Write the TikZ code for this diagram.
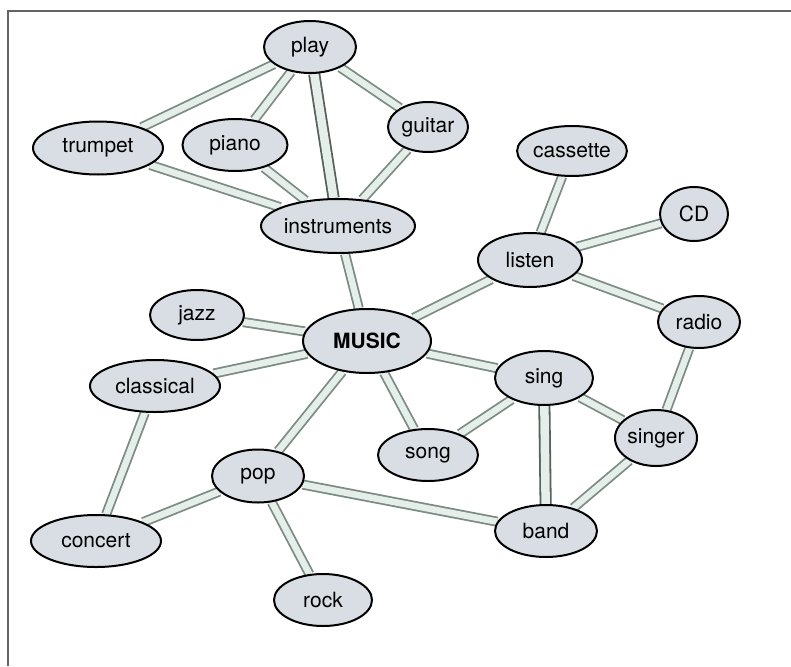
\documentclass[tikz,border=0pt]{standalone}
\usepackage{fontspec}
\setmainfont{TeX Gyre Heros}
\usetikzlibrary{shapes.geometric,backgrounds}
\definecolor{bubble}{RGB}{216,222,228}
\definecolor{tubeedge}{RGB}{122,140,132}
\definecolor{tubefill}{RGB}{230,238,234}
\definecolor{framegray}{RGB}{100,100,100}
\tikzset{
  word/.style={ellipse, draw=black, line width=2pt, fill=bubble, inner sep=0pt,
    font=\fontsize{21}{25}\selectfont},
  tube/.style={draw=tubeedge, line width=1.8pt, double=tubefill, double distance=6.5pt},
  widetube/.style={draw=tubeedge!70!black, line width=1.8pt, double=tubefill, double distance=8.5pt},
}
\newcommand{\wordnode}[6]{%
  \node[word, minimum width=#4pt, minimum height=#5pt] (#1) at (#2,#3) {#6};}
\begin{document}
\begin{tikzpicture}[x=1pt,y=-1pt]
\useasboundingbox (0,0) rectangle (791,666);
% frame
\draw[framegray, line width=1.5pt] (8,666) -- (8,11) -- (791,11);
% concepts
\wordnode{play}{310}{47}{92}{52}{play}
\wordnode{trumpet}{98}{148}{130}{53}{trumpet}
\wordnode{piano}{235}{145}{105}{52}{piano}
\wordnode{guitar}{428}{127}{80}{50}{guitar}
\wordnode{instruments}{338}{226}{154}{54}{instruments}
\wordnode{cassette}{572}{151}{101}{50}{cassette}
\wordnode{cd}{694}{214}{68}{54}{CD}
\wordnode{listen}{530}{260}{104}{54}{listen}
\wordnode{jazz}{197}{315}{94}{50}{jazz}
\node[word, minimum width=128pt, minimum height=64pt, font=\fontsize{21}{25}\selectfont\bfseries] (music) at (367,341) {MUSIC};
\wordnode{radio}{699}{322}{82}{52}{radio}
\wordnode{classical}{155}{386}{130}{52}{classical}
\wordnode{sing}{544}{378}{98}{54}{sing}
\wordnode{song}{428}{455}{100}{52}{song}
\wordnode{singer}{656}{438}{82}{56}{singer}
\wordnode{pop}{258}{476}{92}{53}{pop}
\wordnode{band}{546}{531}{102}{52}{band}
\wordnode{concert}{96}{541}{130}{52}{concert}
\wordnode{rock}{323}{600}{98}{52}{rock}
% links
\begin{pgfonlayer}{background}
\draw[tube] (play) -- (trumpet);
\draw[tube] (play) -- (piano);
\draw[widetube] (play) -- (instruments);
\draw[tube] (play) -- (guitar);
\draw[tube] (trumpet) -- (instruments);
\draw[tube] (piano) -- (instruments);
\draw[tube] (guitar) -- (instruments);
\draw[tube] (instruments) -- (music);
\draw[tube] (cassette) -- (listen);
\draw[tube] (cd) -- (listen);
\draw[tube] (listen) -- (music);
\draw[tube] (listen) -- (radio);
\draw[tube] (jazz) -- (music);
\draw[tube] (music) -- (classical);
\draw[tube] (music) -- (sing);
\draw[tube] (music) -- (song);
\draw[tube] (music) -- (pop);
\draw[tube] (radio) -- (singer);
\draw[tube] (sing) -- (song);
\draw[widetube] (sing) -- (band);
\draw[tube] (sing) -- (singer);
\draw[tube] (singer) -- (band);
\draw[tube] (classical) -- (concert);
\draw[tube] (pop) -- (concert);
\draw[tube] (pop) -- (band);
\draw[tube] (pop) -- (rock);
\end{pgfonlayer}
\end{tikzpicture}
\end{document}
